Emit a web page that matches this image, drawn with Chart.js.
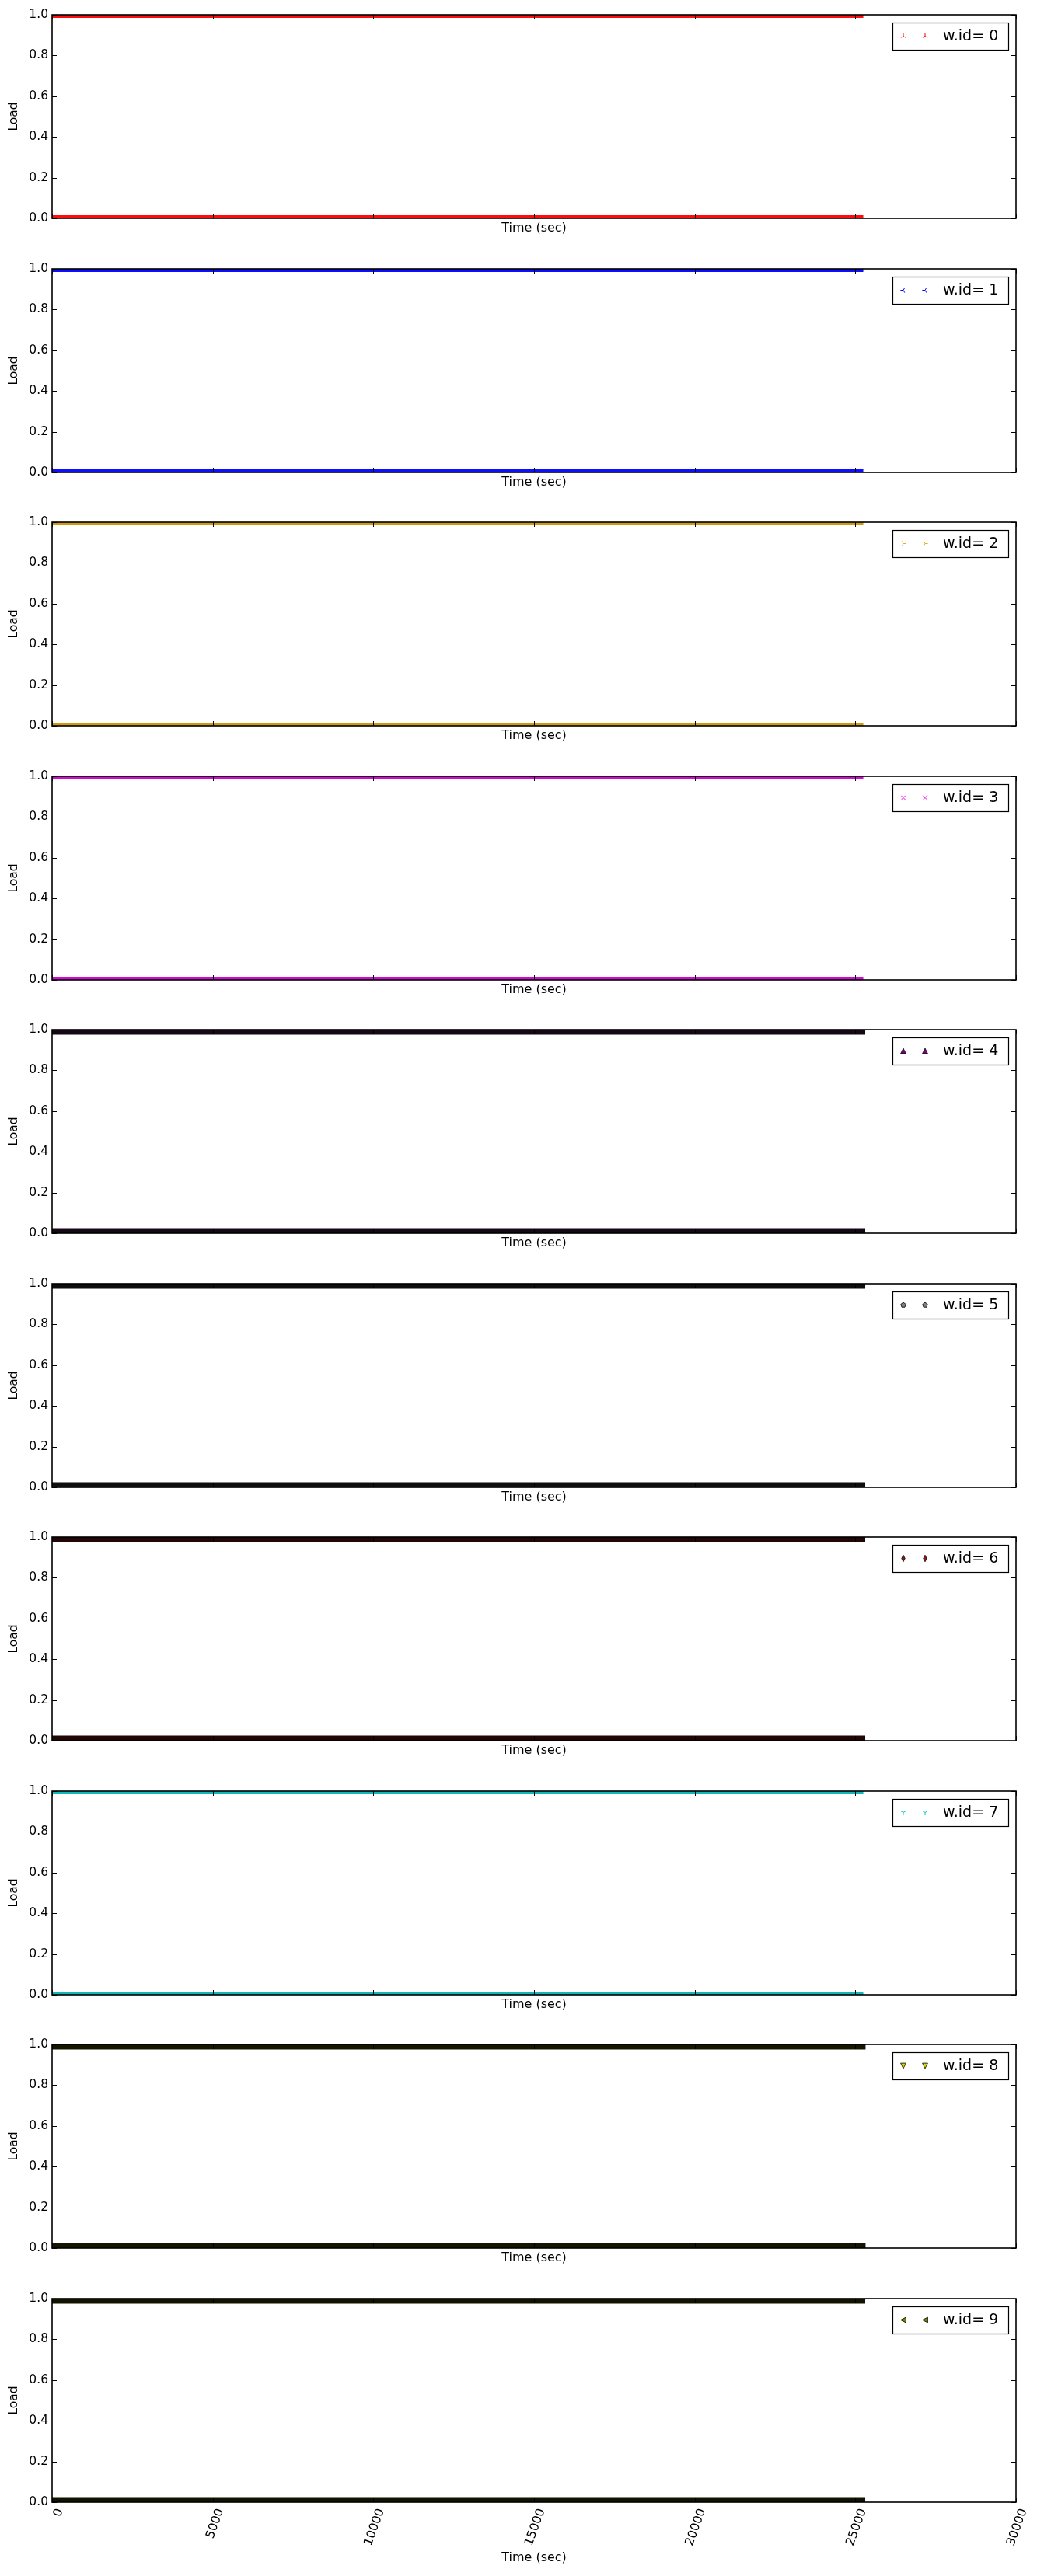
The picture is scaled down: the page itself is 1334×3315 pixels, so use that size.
<!DOCTYPE html>
<html><head><meta charset="utf-8">
<script src="https://cdn.jsdelivr.net/npm/chart.js@4.4.1/dist/chart.umd.min.js"></script>
<style>
html,body{margin:0;padding:0;background:#fff;}
#wrap{position:relative;width:1334px;height:3315px;overflow:hidden;background:#fff;}
#wrap canvas{position:absolute;left:0;}
</style></head><body><div id="wrap"></div>
<script>
// ---- data ----
const workerIds = [0, 1, 2, 3, 4, 5, 6, 7, 8, 9];
const legendLabels = ['w.id= 0','w.id= 1','w.id= 2','w.id= 3','w.id= 4','w.id= 5','w.id= 6','w.id= 7','w.id= 8','w.id= 9'];
const loadLevels = [0.0, 1.0];
const firstSampleTime = [0, 0, 0, 0, 0, 0, 0, 0, 0, 0];
const lastSampleTime = [25150, 25150, 25150, 25150, 25150, 25150, 25150, 25150, 25160, 25150];
const xTickValues = [0, 5000, 10000, 15000, 20000, 25000, 30000];
const yTickValues = [0.0, 0.2, 0.4, 0.6, 0.8, 1.0];
const xAxisTitle = 'Time (sec)';
const yAxisTitle = 'Load';

// ---- styles ----
const markerTypes = ['tri_up','tri_left','tri_right','x','triangle_up','pentagon','thin_diamond','tri_down','triangle_down','triangle_left'];
const markerColors = ['#ff0000','#0000ff','#e8a830','#ee00ee','#800080','#808080','#8b1a1a','#00c8c8','#d8d800','#808000'];
const bandColors = ['#ff0d0d','#0d0dff','#cf9a12','#d20ad2','#140814','#0e0e0e','#220606','#12b8b8','#161600','#121200'];
const bandWidths = [8, 8, 8, 8, 13, 13, 13, 8, 13, 13];
const FONT = "'DejaVu Sans', 'Liberation Sans', sans-serif";

function drawMarker(ctx, type, cx, cy, r, color) {
  ctx.save();
  ctx.translate(cx, cy);
  const poly = (pts) => {
    ctx.beginPath();
    pts.forEach(([x, y], i) => i ? ctx.lineTo(x * r, -y * r) : ctx.moveTo(x * r, -y * r));
    ctx.closePath();
    ctx.fillStyle = color; ctx.fill();
    ctx.strokeStyle = '#000'; ctx.lineWidth = 0.8; ctx.stroke();
  };
  const spokes = (pts) => {
    ctx.beginPath();
    pts.forEach(([x, y]) => { ctx.moveTo(0, 0); ctx.lineTo(x * r, -y * r); });
    ctx.strokeStyle = color; ctx.lineWidth = 1; ctx.stroke();
  };
  switch (type) {
    case 'tri_up': spokes([[0,1],[-0.866,-0.5],[0.866,-0.5]]); break;
    case 'tri_down': spokes([[0,-1],[-0.866,0.5],[0.866,0.5]]); break;
    case 'tri_left': spokes([[-1,0],[0.5,0.866],[0.5,-0.866]]); break;
    case 'tri_right': spokes([[1,0],[-0.5,0.866],[-0.5,-0.866]]); break;
    case 'x': spokes([[0.75,0.75],[-0.75,-0.75],[0.75,-0.75],[-0.75,0.75]]); break;
    case 'triangle_up': poly([[0,1],[-1,-1],[1,-1]]); break;
    case 'triangle_down': poly([[0,-1],[-1,1],[1,1]]); break;
    case 'triangle_left': poly([[-1,0],[1,1],[1,-1]]); break;
    case 'pentagon': {
      const pts = [];
      for (let i = 0; i < 5; i++) { const a = Math.PI/2 + i*2*Math.PI/5; pts.push([Math.cos(a), Math.sin(a)]); }
      poly(pts); break;
    }
    case 'thin_diamond': poly([[0,1.25],[0.65,0],[0,-1.25],[-0.65,0]]); break;
  }
  ctx.restore();
}

const frameTicks = {
  id: 'frameTicks',
  afterDatasetsDraw(chart) {
    const {ctx, chartArea: a, scales: {x, y}} = chart;
    ctx.save();
    ctx.strokeStyle = '#000';
    ctx.lineWidth = 1;
    ctx.beginPath();
    x.ticks.forEach(t => {
      const px = Math.round(x.getPixelForValue(t.value)) + 0.5;
      ctx.moveTo(px, a.bottom); ctx.lineTo(px, a.bottom - 6);
      ctx.moveTo(px, a.top); ctx.lineTo(px, a.top + 6);
    });
    y.ticks.forEach(t => {
      const py = Math.round(y.getPixelForValue(t.value)) + 0.5;
      ctx.moveTo(a.left, py); ctx.lineTo(a.left + 6, py);
      ctx.moveTo(a.right, py); ctx.lineTo(a.right - 6, py);
    });
    ctx.stroke();
    ctx.lineWidth = 1.6;
    ctx.strokeRect(a.left, a.top, a.right - a.left, a.bottom - a.top);
    ctx.restore();
  }
};

const boxLegend = {
  id: 'boxLegend',
  afterDraw(chart, args, opts) {
    const {ctx, chartArea: a} = chart;
    const w = 149, h = 35;
    const left = a.right - 10 - w, top = a.top + 10;
    ctx.save();
    ctx.fillStyle = '#fff';
    ctx.fillRect(left, top, w, h);
    ctx.strokeStyle = '#000'; ctx.lineWidth = 1.2;
    ctx.strokeRect(left + 0.5, top + 0.5, w, h);
    const cy = top + h / 2;
    const k = opts.index;
    const filled = ['triangle_up','triangle_down','triangle_left','pentagon','thin_diamond'].includes(markerTypes[k]);
    const r = filled ? 3.4 : 3.6;
    drawMarker(ctx, markerTypes[k], left + 14, cy, r, markerColors[k]);
    drawMarker(ctx, markerTypes[k], left + 42, cy, r, markerColors[k]);
    ctx.fillStyle = '#000';
    ctx.font = '19px ' + FONT;
    ctx.textAlign = 'left'; ctx.textBaseline = 'middle';
    ctx.fillText(legendLabels[k], left + 65, cy + 1);
    ctx.restore();
  }
};

const wrap = document.getElementById('wrap');
workerIds.forEach((id, k) => {
  const isLast = k === workerIds.length - 1;
  const plotTop = Math.round(19 + 326.5 * k);
  const canvasTop = plotTop - 19;
  const canvasH = isLast ? 3315 - canvasTop : 326;
  const xScaleH = canvasH - 19 - 262;
  const cv = document.createElement('canvas');
  cv.width = 1334; cv.height = canvasH;
  cv.style.top = canvasTop + 'px';
  cv.style.width = '1334px'; cv.style.height = canvasH + 'px';
  wrap.appendChild(cv);

  const datasets = loadLevels.map(level => ({
    label: legendLabels[k],
    data: [{x: firstSampleTime[k], y: level}, {x: lastSampleTime[k], y: level}],
    showLine: true,
    borderColor: bandColors[k],
    backgroundColor: bandColors[k],
    borderWidth: bandWidths[k],
    borderCapStyle: 'square',
    pointRadius: 0,
    clip: 0,
    fill: false,
    tension: 0
  }));

  new Chart(cv, {
    type: 'scatter',
    data: { datasets },
    options: {
      responsive: false,
      animation: false,
      devicePixelRatio: 1,
      layout: { padding: { top: 19, right: 27, left: 0, bottom: 0 } },
      plugins: {
        legend: { display: false },
        tooltip: { enabled: false },
        boxLegend: { index: k }
      },
      scales: {
        x: {
          type: 'linear', position: 'bottom',
          min: 0, max: 30000,
          afterBuildTicks: s => { s.ticks = xTickValues.map(v => ({value: v})); },
          afterFit: s => { s.height = xScaleH; },
          grid: { display: false, drawTicks: false },
          border: { display: false },
          ticks: {
            display: isLast,
            color: '#000',
            font: { family: FONT, size: 15.5 },
            minRotation: 70, maxRotation: 70,
            padding: 6,
            labelOffset: 10,
            callback: v => String(v)
          },
          title: {
            display: true, text: xAxisTitle, color: '#000',
            font: { family: FONT, size: 16 },
            padding: { top: 0, bottom: isLast ? 13.4 : 22.4 }
          }
        },
        y: {
          type: 'linear', position: 'left',
          min: 0, max: 1,
          afterBuildTicks: s => { s.ticks = yTickValues.map(v => ({value: v})); },
          afterFit: s => { s.width = 67; },
          grid: { display: false, drawTicks: false },
          border: { display: false },
          ticks: {
            color: '#000',
            font: { family: FONT, size: 15.5 },
            padding: 5,
            callback: v => Number(v).toFixed(1)
          },
          title: {
            display: true, text: yAxisTitle, color: '#000',
            font: { family: FONT, size: 15.5 },
            padding: { top: 8.7, bottom: 0 }
          }
        }
      }
    },
    plugins: [frameTicks, boxLegend]
  });
});
</script></body></html>
